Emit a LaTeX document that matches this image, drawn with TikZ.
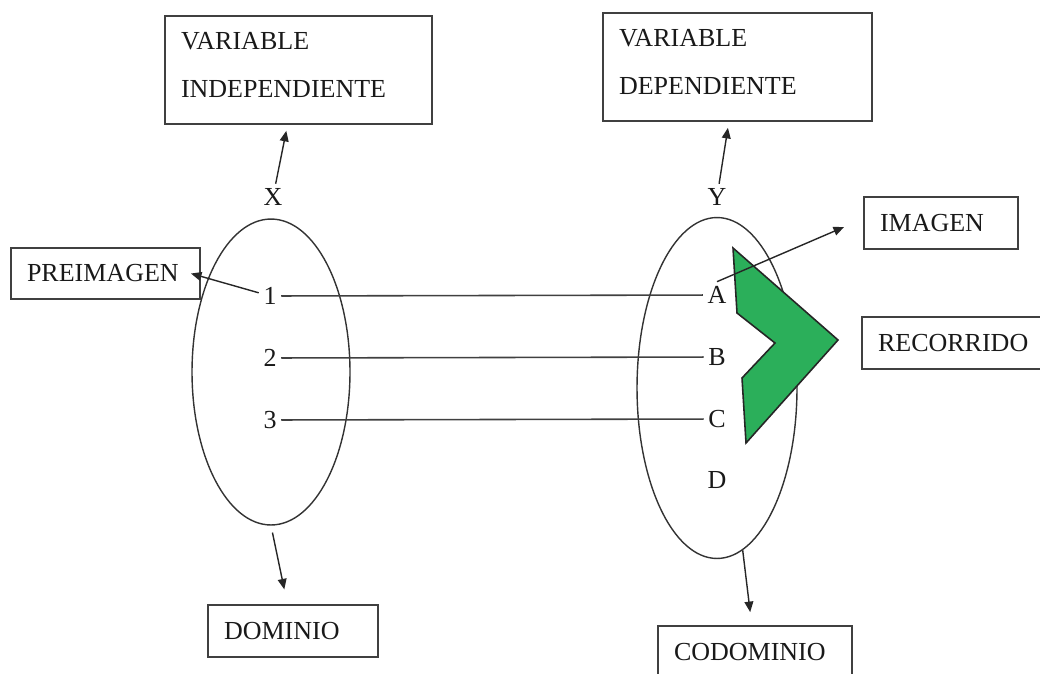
\documentclass[tikz,border=0pt]{standalone}
\usepackage{fontspec}
\setmainfont{Liberation Serif}
\usetikzlibrary{shapes.geometric,arrows.meta}
\definecolor{recgreen}{RGB}{43,175,90}

\begin{document}
\begin{tikzpicture}[x=0.02cm,y=-0.02cm,
  every node/.style={font=\fontsize{14.8}{27.3}\selectfont, text=black!90},
  box/.style={draw=black!75, line width=1.1pt, align=left, inner xsep=0.32cm, inner ysep=0pt},
  set/.style={draw=black!80, line width=0.8pt, ellipse, inner sep=0pt},
  elem/.style={inner sep=2.5pt},
  arr/.style={draw=black!85, line width=0.8pt, -{Triangle[length=6pt,width=5pt]}},
  link/.style={draw=black!75, line width=0.9pt}]
\clip (0,0) rectangle (1040,673);

% conjuntos X e Y
\node[set, minimum width=3.16cm, minimum height=6.12cm] (setX) at (271,372) {};
\node[set, minimum width=3.2cm, minimum height=6.82cm] (setY) at (717,388) {};
\node[elem] (x) at (273,197) {X};
\node[elem] (y) at (717,197) {Y};

% elementos
\node[elem] (n1) at (270,296) {1};
\node[elem] (n2) at (270,358) {2};
\node[elem] (n3) at (270,420) {3};
\node[elem] (a) at (717,295) {A};
\node[elem] (b) at (717,357) {B};
\node[elem] (c) at (717,419) {C};
\node[elem] (d) at (717,480) {D};

% cajas
\node[box, text width=4.7cm, minimum height=2.16cm, text depth=33pt] (vi) at (298.5,70) {VARIABLE\\INDEPENDIENTE};
\node[box, text width=4.74cm, minimum height=2.16cm, text depth=33pt] (vd) at (737.5,67) {VARIABLE\\DEPENDIENTE};
\node[box, text width=3.14cm, minimum height=1.02cm] (pre) at (105.5,273.5) {PREIMAGEN};
\node[box, text width=2.44cm, minimum height=1.04cm] (img) at (941,223) {IMAGEN};
\node[box, text width=3.06cm, minimum height=1.04cm] (rec) at (954.5,343) {RECORRIDO};
\node[box, text width=2.76cm, minimum height=1.04cm] (dom) at (293,631) {DOMINIO};
\node[box, text width=3.24cm, minimum height=1.04cm] (cod) at (755,652) {CODOMINIO};

% flechas de relacion
\draw[link] (n1) -- (a);
\draw[link] (n2) -- (b);
\draw[link] (n3) -- (c);

% recorrido
\filldraw[fill=recgreen, draw=black!85, line width=0.9pt]
  (733,248) -- (838,340) -- (746,443) -- (742,378) -- (775,343) -- (737,313) -- cycle;

% flechas a las cajas
\draw[arr, shorten >=3.4pt] (x) -- (vi);
\draw[arr, shorten >=3.4pt] (y) -- (vd);
\draw[arr] (n1) -- ([xshift=-0.2cm]pre.east);
\draw[arr] (a.north) -- ([xshift=-0.38cm,yshift=-0.08cm]img.west);
\draw[arr, shorten <=4pt, shorten >=8.5pt] (setX.south) -- (dom);
\draw[arr, shorten >=7.4pt] (setY.-81) -- (cod);
\end{tikzpicture}
\end{document}
